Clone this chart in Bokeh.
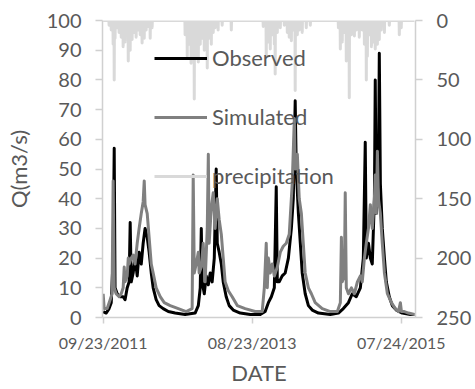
import pandas as pd
from bokeh.plotting import figure
from bokeh.models import (Range1d, LinearAxis, FixedTicker, DatetimeTickFormatter,
                          Legend, LegendItem)
from bokeh.embed import file_html
from bokeh.resources import INLINE

# ---------------- data ----------------
start_date = "2011-09-23"
last_day = 1462

# observed discharge (days since start, m3/s)
obs_day = [0, 14, 28, 38, 47, 52, 56, 66, 80, 94,
           103, 113, 122, 127, 132, 141, 150, 160, 169, 179,
           188, 197, 207, 216, 226, 235, 249, 263, 282, 306,
           338, 385, 432, 447, 456, 461, 465, 475, 484, 494,
           503, 512, 522, 531, 536, 545, 555, 564, 578, 592,
           611, 644, 691, 738, 761, 776, 790, 804, 813, 818,
           827, 841, 855, 870, 884, 893, 902, 907, 917, 926,
           935, 949, 964, 982, 1011, 1067, 1105, 1128, 1152, 1170,
           1189, 1208, 1222, 1231, 1236, 1246, 1255, 1264, 1274, 1278,
           1283, 1293, 1297, 1302, 1311, 1321, 1330, 1344, 1358, 1377,
           1405, 1443, 1462]
obs_q = [2, 1.5, 3, 5, 20, 57, 10, 8, 7, 7,
         6, 10, 12, 32, 12, 15, 20, 14, 22, 18,
         25, 30, 27, 22, 15, 10, 6, 4, 3, 2,
         1.5, 1, 1.5, 4, 10, 30, 12, 8, 14, 11,
         15, 12, 20, 50, 25, 22, 18, 12, 7, 4,
         2.5, 1.5, 1, 1, 2, 5, 7, 10, 44, 12,
         12, 14, 15, 20, 30, 40, 73, 50, 35, 25,
         15, 8, 4, 2.5, 1.5, 1, 1.5, 3, 5, 8,
         7, 10, 20, 59, 20, 25, 20, 18, 40, 80,
         35, 50, 89, 45, 30, 20, 12, 7, 4, 2.5,
         1.5, 1, 1]

# simulated discharge
sim_day = [0, 5, 19, 33, 42, 47, 52, 61, 75, 85,
           94, 99, 103, 113, 118, 122, 132, 141, 150, 160,
           169, 179, 188, 193, 197, 207, 216, 226, 235, 249,
           268, 287, 315, 353, 390, 418, 423, 428, 437, 447,
           451, 461, 470, 479, 489, 494, 498, 508, 517, 526,
           536, 545, 555, 564, 573, 588, 606, 630, 667, 714,
           747, 757, 766, 771, 776, 785, 794, 804, 818, 832,
           846, 860, 874, 888, 898, 902, 912, 921, 931, 940,
           949, 964, 978, 996, 1029, 1067, 1100, 1114, 1119, 1123,
           1133, 1137, 1142, 1152, 1166, 1180, 1194, 1208, 1217, 1227,
           1236, 1246, 1255, 1264, 1274, 1278, 1283, 1288, 1293, 1302,
           1311, 1321, 1335, 1354, 1372, 1387, 1396, 1401, 1415, 1434,
           1462]
sim_q = [8, 3, 3, 6, 8, 46, 10, 8, 7, 8,
         10, 17, 12, 14, 20, 18, 20, 21, 18, 25,
         30, 35, 39, 46, 38, 35, 27, 18, 15, 10,
         7, 5, 4, 3, 2, 3, 48, 15, 18, 22,
         15, 17, 25, 12, 30, 55, 25, 37, 42, 30,
         40, 33, 28, 20, 12, 9, 7, 4, 3, 2,
         2, 10, 25, 10, 20, 15, 18, 14, 17, 22,
         24, 25, 28, 45, 67, 50, 55, 40, 35, 25,
         15, 10, 8, 5, 3, 2, 2, 5, 27, 12,
         14, 42, 10, 8, 10, 8, 12, 14, 12, 20,
         25, 30, 38, 30, 40, 48, 35, 56, 40, 35,
         25, 15, 8, 5, 3, 2, 5, 2, 2, 1.5,
         1]

# precipitation on rainy days (mm); all other days are 0
rain_day = [28, 38, 47, 52, 56, 66, 75, 85, 94, 103, 108, 118, 127, 136, 146, 155,
            164, 174, 183, 193, 202, 212, 221, 230,
            385, 395, 404, 413, 423, 428, 437, 447, 456, 465, 475, 484, 489, 498,
            508, 517, 526, 540, 559, 602,
            752, 766, 776, 785, 794, 804, 808, 818, 832, 851, 865, 874, 884, 893,
            902, 912, 921, 935, 954, 973,
            1105, 1114, 1123, 1133, 1142, 1152, 1156, 1166, 1180, 1189, 1203, 1217,
            1227, 1236, 1241, 1250, 1260, 1269, 1278, 1288, 1297, 1306, 1321, 1344,
            1391, 1400]
rain_mm = [4, 8, 20, 50, 15, 6, 10, 14, 22, 18, 12, 34, 25, 16, 10, 14,
           8, 12, 19, 15, 8, 5, 15, 6,
           12, 30, 20, 36, 25, 66, 30, 35, 20, 15, 25, 18, 40, 15,
           20, 10, 6, 8, 4, 8,
           5, 30, 18, 24, 12, 20, 45, 10, 6, 4, 10, 14, 17, 8,
           59, 12, 8, 10, 6, 4,
           6, 24, 18, 10, 34, 20, 65, 12, 13, 8, 14, 8,
           20, 50, 30, 12, 22, 18, 24, 20, 16, 8, 10, 4,
           12, 6]

x_tick_labels = ["09/23/2011", "08/23/2013", "07/24/2015"]
q_ticks = [0, 10, 20, 30, 40, 50, 60, 70, 80, 90, 100]
p_ticks = [0, 50, 100, 150, 200, 250]

# ---------------- build ----------------
t0 = pd.Timestamp(start_date)


def to_dates(days):
    return t0 + pd.to_timedelta(list(days), unit="D")


obs_dates = to_dates(obs_day)
sim_dates = to_dates(sim_day)
rain = pd.Series(rain_mm, index=rain_day).reindex(range(0, last_day + 1), fill_value=0)
rain_dates = to_dates(rain.index)

FONT = "Lato"
TXT = "#595959"
AX = "#d0d0d0"

p = figure(width=475, height=389, x_axis_type="datetime",
           x_range=Range1d(pd.Timestamp("2011-09-20"), pd.Timestamp("2015-09-29")),
           y_range=Range1d(0, 100),
           output_backend="svg", toolbar_location=None,
           min_border_left=102, min_border_right=60, min_border_top=20,
           min_border_bottom=72)
p.extra_y_ranges = {"precip": Range1d(start=250, end=0)}
p.outline_line_color = None
p.xgrid.visible = False
p.ygrid.visible = False
p.background_fill_color = "white"
p.border_fill_color = "white"

r_rain = p.line(rain_dates, rain.values, color="#d9d9d9", line_width=3,
                y_range_name="precip", line_join="round")
r_obs = p.line(obs_dates, obs_q, color="black", line_width=3, line_join="round")
r_sim = p.line(sim_dates, sim_q, color="#808080", line_width=3, line_join="round")

legend = Legend(items=[LegendItem(label="Observed", renderers=[r_obs]),
                       LegendItem(label="Simulated", renderers=[r_sim]),
                       LegendItem(label="precipitation", renderers=[r_rain])],
                location=(52, 128), orientation="vertical",
                glyph_width=53, glyph_height=20, label_height=20, spacing=32,
                padding=0, margin=0, label_standoff=5,
                background_fill_alpha=0, border_line_color=None,
                label_text_font=FONT, label_text_font_size="22px",
                label_text_color=TXT)
p.add_layout(legend)


def style(ax, size="20px"):
    ax.axis_line_color = AX
    ax.axis_line_width = 1.5
    ax.major_tick_line_color = AX
    ax.major_tick_line_width = 1.5
    ax.major_tick_in = 0
    ax.major_tick_out = 7
    ax.minor_tick_line_color = None
    ax.major_label_text_font = FONT
    ax.major_label_text_font_size = size
    ax.major_label_text_color = TXT
    ax.major_label_standoff = 14
    ax.axis_label_text_font = FONT
    ax.axis_label_text_font_size = "22px"
    ax.axis_label_text_color = TXT
    ax.axis_label_text_font_style = "normal"


ly = p.yaxis[0]
ly.ticker = FixedTicker(ticks=q_ticks)
ly.axis_label = "Q(m3/s)"
style(ly)
ly.axis_label_standoff = 12

ry = LinearAxis(y_range_name="precip", ticker=FixedTicker(ticks=p_ticks))
style(ry)
p.add_layout(ry, "right")

bx = p.xaxis[0]
bx.ticker = FixedTicker(ticks=[pd.to_datetime(s, format="%m/%d/%Y").value // 10**6
                               for s in x_tick_labels])
fmt = "%m/%d/%Y"
bx.formatter = DatetimeTickFormatter(days=fmt, months=fmt, years=fmt, hours=fmt,
                                     minutes=fmt, seconds=fmt)
bx.axis_label = "DATE"
style(bx, "16px")
bx.major_tick_out = 6
bx.major_label_standoff = 9
bx.axis_label_standoff = 4

open("out.html", "w").write(file_html(p, INLINE))
